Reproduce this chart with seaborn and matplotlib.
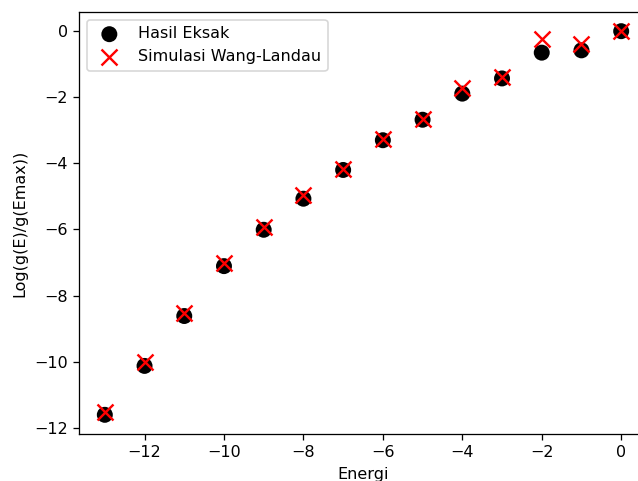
import numpy as np
import pandas as pd
import matplotlib
matplotlib.use("Agg")
import matplotlib.pyplot as plt
import seaborn as sb

# Energy levels
energi = [-13, -12, -11, -10, -9, -8, -7, -6, -5, -4, -3, -2, -1, 0]

# Exact result log(g(E)/g(Emax))
hasil_eksak = [-11.61, -10.13, -8.62, -7.11, -6.01, -5.07, -4.20, -3.30,
               -2.68, -1.89, -1.43, -0.65, -0.58, 0.0]

# Wang-Landau simulation
simulasi_wl = [-11.51, -10.00, -8.54, -7.02, -5.93, -4.97, -4.16, -3.26,
               -2.66, -1.73, -1.39, -0.23, -0.38, 0.0]

df = pd.DataFrame({'Energi': energi, 'Eksak': hasil_eksak, 'WL': simulasi_wl})

# reference looks rendered at slightly higher scale
dpi = 115
fig = plt.figure(figsize=(638 / dpi, 481 / dpi), dpi=dpi)
ax = fig.add_axes([79 / 638, 1 - 434 / 481, 568 / 638, 422 / 481])

sb.scatterplot(data=df, x='Energi', y='Eksak', ax=ax, color='black', s=100,
               marker='o', edgecolor='none', label='Hasil Eksak')
sb.scatterplot(data=df, x='Energi', y='WL', ax=ax, color='red', s=100,
               marker='x', linewidth=1.5, label='Simulasi Wang-Landau')

ax.set_xlabel('Energi')
ax.set_ylabel('Log(g(E)/g(Emax))')
ax.legend(loc='upper left')

fig.savefig('out.png', dpi=dpi)
